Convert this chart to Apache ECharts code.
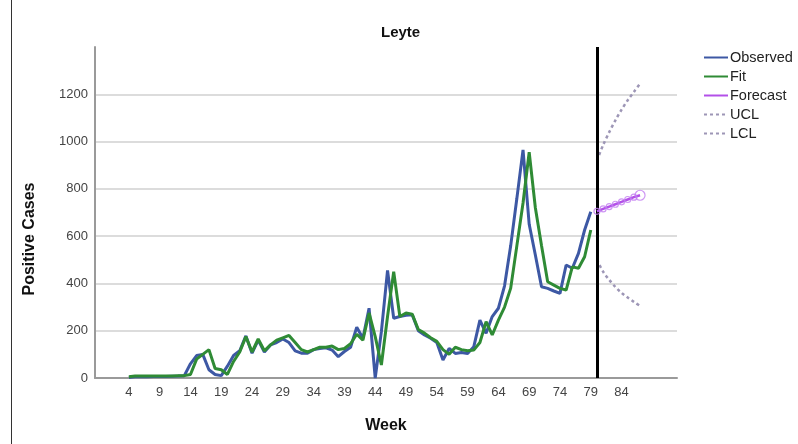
<!DOCTYPE html>
<html><head><meta charset="utf-8">
<script src="https://cdn.jsdelivr.net/npm/echarts@6/dist/echarts.min.js"></script>
<style>html,body{margin:0;padding:0;background:#fff}#c{width:798px;height:444px}</style>
</head><body><div id="c"></div>
<script>
// ---- data ----
const weekTicks = [4, 9, 14, 19, 24, 29, 34, 39, 44, 49, 54, 59, 64, 69, 74, 79, 84];
const yTicks = [0, 200, 400, 600, 800, 1000, 1200];
const obsWeeks = [4,5,6,7,8,9,10,11,12,13,14,15,16,17,18,19,20,21,22,23,24,25,26,27,28,29,30,31,32,33,34,35,36,37,38,39,40,41,42,43,44,45,46,47,48,49,50,51,52,53,54,55,56,57,58,59,60,61,62,63,64,65,66,67,68,69,70,71,72,73,74,75,76,77,78,79];
const observed = [2,5,5,5,6,6,6,7,8,10,60,95,100,35,15,10,50,95,115,178,105,160,110,140,150,165,150,115,105,105,120,125,128,118,90,112,130,215,168,295,0,196,455,253,260,265,268,200,182,168,150,76,125,104,108,104,132,245,189,260,295,390,560,760,965,650,520,386,379,368,358,478,464,527,626,703];
const fit = [5,8,8,8,8,8,8,8,9,10,15,80,100,120,40,35,15,70,110,175,110,165,115,140,160,170,180,150,120,110,120,130,130,135,120,125,145,185,160,275,175,55,260,450,260,275,270,205,190,170,155,120,100,130,120,115,118,150,238,182,245,300,380,560,740,955,720,560,407,393,379,372,470,464,513,626];
const fcWeeks = [80,81,82,83,84,85,86,87];
const forecast = [705,715,725,735,745,755,765,773];
const ucl = [920,985,1040,1090,1135,1175,1210,1245];
const lcl = [500,450,415,385,360,340,322,305];
const forecastStartWeek = 80;
// ---------------

const pair = (xs, ys) => xs.map((x, i) => [x, ys[i]]);
const FONT = 'Liberation Sans, Arial, sans-serif';
const chart = echarts.init(document.getElementById('c'), null, {renderer: 'canvas'});

chart.setOption({
  animation: false,
  backgroundColor: '#fff',
  title: {
    text: 'Leyte', left: 376, top: 20,
    textStyle: {fontFamily: FONT, fontSize: 15, fontWeight: 'bold', color: '#111'}
  },
  legend: {
    orient: 'vertical', left: 703, top: 50, padding: 0,
    itemWidth: 24, itemHeight: 12, itemGap: 4,
    data: ['Observed', 'Fit', 'Forecast', 'UCL', 'LCL'],
    itemStyle: {color: 'rgba(0,0,0,0)', borderWidth: 0, opacity: 0},
    textStyle: {fontFamily: FONT, fontSize: 14.5, color: '#222', padding: [0, 0, 0, -3]}
  },
  grid: {left: 95, right: 121, top: 47, bottom: 66, containLabel: false, outerBoundsMode: 'none'},
  xAxis: {
    type: 'value', min: -1.5, max: 93.0,
    name: 'Week', nameLocation: 'middle', nameGap: 40,
    nameTextStyle: {fontFamily: FONT, fontSize: 16, fontWeight: 'bold', color: '#111'},
    axisLine: {show: true, onZero: false, lineStyle: {color: '#9a9a9a', width: 2}},
    axisTick: {show: false},
    splitLine: {show: false},
    axisLabel: {customValues: weekTicks, margin: 8, fontFamily: FONT, fontSize: 13, color: '#444'}
  },
  yAxis: {
    type: 'value', min: 0, max: 1400, interval: 200,
    axisLine: {show: true, onZero: false, lineStyle: {color: '#9a9a9a', width: 2}},
    axisTick: {show: false},
    splitLine: {show: true, showMaxLine: false, lineStyle: {color: '#d0d0d0', width: 1.5}},
    axisLabel: {
      margin: 7, fontFamily: FONT, fontSize: 13, color: '#444',
      formatter: v => (yTicks.indexOf(v) >= 0 ? String(v) : '')
    }
  },
  graphic: [
    {type: 'text', x: 30, y: 239, rotation: Math.PI / 2,
     style: {text: 'Positive Cases', font: 'bold 16px ' + FONT, fill: '#111', align: 'center', verticalAlign: 'middle'}},
    {type: 'line', shape: {x1: 11.5, y1: 0, x2: 11.5, y2: 444}, style: {stroke: '#333', lineWidth: 1}}
  ],
  series: [
    {
      name: 'Observed', type: 'line', data: pair(obsWeeks, observed),
      symbol: 'none', color: '#3d58a4', lineStyle: {width: 3, color: '#3d58a4'}, z: 3,
      markLine: {
        silent: true, symbol: 'none', label: {show: false},
        lineStyle: {color: '#000', width: 3, type: 'solid'},
        data: [{xAxis: forecastStartWeek}]
      }
    },
    {
      name: 'Fit', type: 'line', data: pair(obsWeeks, fit),
      symbol: 'none', color: '#2f8b35', lineStyle: {width: 3, color: '#2f8b35'}, z: 4
    },
    {
      name: 'Forecast', type: 'line', data: pair(fcWeeks, forecast),
      symbol: 'none', color: '#b350e8', lineStyle: {width: 2.5, color: '#b350e8'}, z: 5
    },
    {
      name: 'ForecastPts', type: 'scatter',
      data: fcWeeks.map((w, i) => ({value: [w, forecast[i]], symbolSize: i === fcWeeks.length - 1 ? 10 : 6})),
      symbol: 'circle', itemStyle: {color: 'rgba(255,255,255,0)', borderColor: '#c27cf0', borderWidth: 1.2}, z: 6
    },
    {
      name: 'UCL', type: 'line', data: pair(fcWeeks, ucl), smooth: 0.3,
      symbol: 'none', color: '#9d96b6', lineStyle: {width: 2.5, color: '#9d96b6', type: [3, 3]}, z: 2
    },
    {
      name: 'LCL', type: 'line', data: pair(fcWeeks, lcl), smooth: 0.3,
      symbol: 'none', color: '#9d96b6', lineStyle: {width: 2.5, color: '#9d96b6', type: [3, 3]}, z: 2
    }
  ]
});
</script>
</body></html>
